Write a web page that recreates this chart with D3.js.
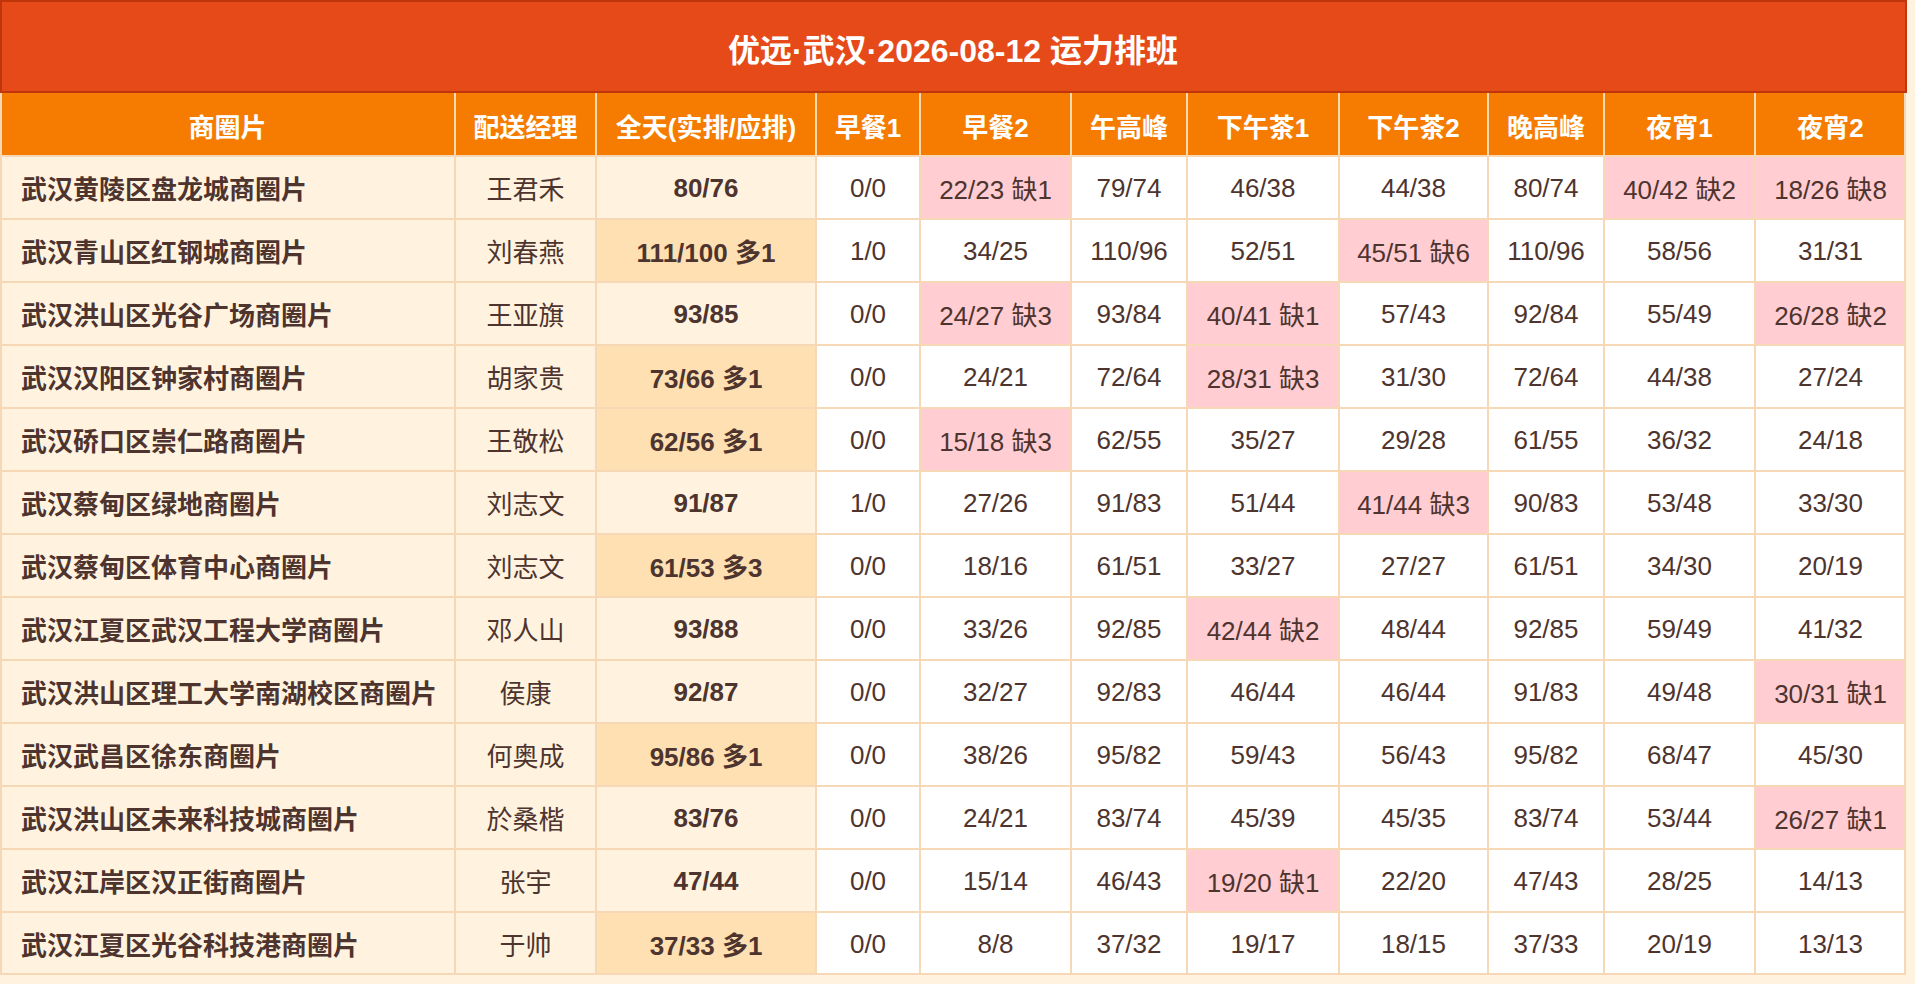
<!DOCTYPE html>
<html>
<head>
<meta charset="utf-8">
<script src="https://cdn.jsdelivr.net/npm/d3@7/dist/d3.min.js"></script>
<style>
  html, body { margin: 0; padding: 0; background: #fff3e0; }
  svg { display: block; }
  text { font-family: "Liberation Sans", "Noto Sans CJK SC", sans-serif; }
</style>
</head>
<body>
<svg id="chart"></svg>
<script>
// ---------- data ----------
const title = "优远·武汉·2026-08-12 运力排班";
const headers = ["商圈片", "配送经理", "全天(实排/应排)", "早餐1", "早餐2", "午高峰", "下午茶1", "下午茶2", "晚高峰", "夜宵1", "夜宵2"];
const districts = [
  "武汉黄陵区盘龙城商圈片", "武汉青山区红钢城商圈片", "武汉洪山区光谷广场商圈片", "武汉汉阳区钟家村商圈片",
  "武汉硚口区崇仁路商圈片", "武汉蔡甸区绿地商圈片", "武汉蔡甸区体育中心商圈片", "武汉江夏区武汉工程大学商圈片",
  "武汉洪山区理工大学南湖校区商圈片", "武汉武昌区徐东商圈片", "武汉洪山区未来科技城商圈片", "武汉江岸区汉正街商圈片",
  "武汉江夏区光谷科技港商圈片"
];
const managers = ["王君禾", "刘春燕", "王亚旗", "胡家贵", "王敬松", "刘志文", "刘志文", "邓人山", "侯康", "何奥成", "於桑楷", "张宇", "于帅"];
const totalActual   = [80, 111, 93, 73, 62, 91, 61, 93, 92, 95, 83, 47, 37];
const totalRequired = [76, 100, 85, 66, 56, 87, 53, 88, 87, 86, 76, 44, 33];
const totalSurplus  = [0, 1, 0, 1, 1, 0, 3, 0, 0, 1, 0, 0, 1];
// [actual, required] per slot
const breakfast1  = [[0,0],[1,0],[0,0],[0,0],[0,0],[1,0],[0,0],[0,0],[0,0],[0,0],[0,0],[0,0],[0,0]];
const breakfast2  = [[22,23],[34,25],[24,27],[24,21],[15,18],[27,26],[18,16],[33,26],[32,27],[38,26],[24,21],[15,14],[8,8]];
const lunchPeak   = [[79,74],[110,96],[93,84],[72,64],[62,55],[91,83],[61,51],[92,85],[92,83],[95,82],[83,74],[46,43],[37,32]];
const afternoon1  = [[46,38],[52,51],[40,41],[28,31],[35,27],[51,44],[33,27],[42,44],[46,44],[59,43],[45,39],[19,20],[19,17]];
const afternoon2  = [[44,38],[45,51],[57,43],[31,30],[29,28],[41,44],[27,27],[48,44],[46,44],[56,43],[45,35],[22,20],[18,15]];
const dinnerPeak  = [[80,74],[110,96],[92,84],[72,64],[61,55],[90,83],[61,51],[92,85],[91,83],[95,82],[83,74],[47,43],[37,33]];
const lateNight1  = [[40,42],[58,56],[55,49],[44,38],[36,32],[53,48],[34,30],[59,49],[49,48],[68,47],[53,44],[28,25],[20,19]];
const lateNight2  = [[18,26],[31,31],[26,28],[27,24],[24,18],[33,30],[20,19],[41,32],[30,31],[45,30],[26,27],[14,13],[13,13]];
const slots = [breakfast1, breakfast2, lunchPeak, afternoon1, afternoon2, dinnerPeak, lateNight1, lateNight2];

// ---------- layout ----------
const W = 1915, H = 984;
const colWidths = [455, 141, 220, 104, 151, 116, 152, 149, 116, 151, 151];
const colEdges = [0].concat(Array.from(d3.cumsum(colWidths)));
const tableW = colEdges[colEdges.length - 1];
const titleH = 93, headerH = 63, rowH = 63;
const fontSize = 26;
const hasCJK = s => /[^\x00-\x7f]/.test(s);

const C = {
  titleBg: "#e64a19", titleBorder: "#bf360c", headerBg: "#f57c00",
  headerLine: "#fcd9b0", grid: "#f7d8b6", nameBg: "#fff3e0", plain: "#ffffff",
  short: "#ffcdd2", surplus: "#ffe0b2", text: "#4e342e"
};

const svg = d3.select("#chart").attr("width", W).attr("height", H);
svg.append("rect").attr("width", W).attr("height", H).attr("fill", "#fff3e0");

const x = d3.scaleOrdinal().domain(d3.range(headers.length)).range(colEdges.slice(0, -1));
const y = d3.scaleBand().domain(d3.range(districts.length))
  .range([titleH + headerH, titleH + headerH + rowH * districts.length]).padding(0);

// title
svg.append("rect").attr("x", 1).attr("y", 1).attr("width", tableW - 1).attr("height", titleH - 2)
  .attr("fill", C.titleBg).attr("stroke", C.titleBorder).attr("stroke-width", 2);
svg.append("text").attr("x", tableW / 2).attr("y", 62).attr("text-anchor", "middle")
  .attr("fill", "#fff").attr("font-weight", "bold").attr("font-size", 32).text(title);

// header
const hg = svg.append("g");
hg.selectAll("rect").data(headers).join("rect")
  .attr("x", (d, i) => x(i)).attr("y", titleH).attr("width", (d, i) => colWidths[i]).attr("height", headerH)
  .attr("fill", C.headerBg);
hg.selectAll("text").data(headers).join("text")
  .attr("x", (d, i) => x(i) + colWidths[i] / 2).attr("y", titleH + headerH / 2 + 12)
  .attr("text-anchor", "middle").attr("fill", "#fff").attr("font-weight", "bold")
  .attr("font-size", fontSize).text(d => d);

// body cells
const cells = [];
districts.forEach((name, r) => {
  cells.push({ r, c: 0, text: name, bg: C.nameBg, bold: true, align: "start" });
  cells.push({ r, c: 1, text: managers[r], bg: C.nameBg, bold: false, align: "middle" });
  const s = totalSurplus[r];
  cells.push({ r, c: 2, text: totalActual[r] + "/" + totalRequired[r] + (s > 0 ? " 多" + s : ""),
    bg: s > 0 ? C.surplus : C.nameBg, bold: true, align: "middle" });
  slots.forEach((arr, k) => {
    const [a, q] = arr[r];
    const lack = q - a;
    cells.push({ r, c: 3 + k, text: a + "/" + q + (lack > 0 ? " 缺" + lack : ""),
      bg: lack > 0 ? C.short : C.plain, bold: false, align: "middle" });
  });
});

const bodyG = svg.append("g");
bodyG.selectAll("rect").data(cells).join("rect")
  .attr("x", d => x(d.c)).attr("y", d => y(d.r))
  .attr("width", d => colWidths[d.c]).attr("height", y.bandwidth())
  .attr("fill", d => d.bg);

bodyG.selectAll("text").data(cells).join("text")
  .attr("x", d => d.align === "start" ? x(d.c) + 21 : x(d.c) + colWidths[d.c] / 2)
  .attr("y", d => y(d.r) + rowH / 2 + (hasCJK(d.text) ? 11 : 9))
  .attr("text-anchor", d => d.align)
  .attr("font-weight", d => d.bold ? "bold" : "normal")
  .attr("font-size", fontSize).attr("fill", C.text)
  .text(d => d.text);

// grid lines
const gridTop = titleH, gridBottom = titleH + headerH + rowH * districts.length;
const clampX = d => Math.min(Math.max(d, 1), tableW - 1);
const grid = svg.append("g").attr("fill", "none");
grid.selectAll("line.hv").data(colEdges).join("line").attr("class", "hv")
  .attr("x1", clampX).attr("x2", clampX)
  .attr("y1", gridTop).attr("y2", gridTop + headerH)
  .attr("stroke", (d, i) => (i === 0 || i === colEdges.length - 1) ? C.grid : C.headerLine).attr("stroke-width", 2);
grid.selectAll("line.bv").data(colEdges).join("line").attr("class", "bv")
  .attr("x1", clampX).attr("x2", clampX)
  .attr("y1", gridTop + headerH).attr("y2", gridBottom)
  .attr("stroke", C.grid).attr("stroke-width", 2);
const rowEdges = d3.range(districts.length + 1).map(i => titleH + headerH + i * rowH);
grid.selectAll("line.h").data(rowEdges).join("line").attr("class", "h")
  .attr("x1", 0).attr("x2", tableW)
  .attr("y1", (d, i) => i === districts.length ? d - 1 : d).attr("y2", (d, i) => i === districts.length ? d - 1 : d)
  .attr("stroke", C.grid).attr("stroke-width", 2);
</script>
</body>
</html>
